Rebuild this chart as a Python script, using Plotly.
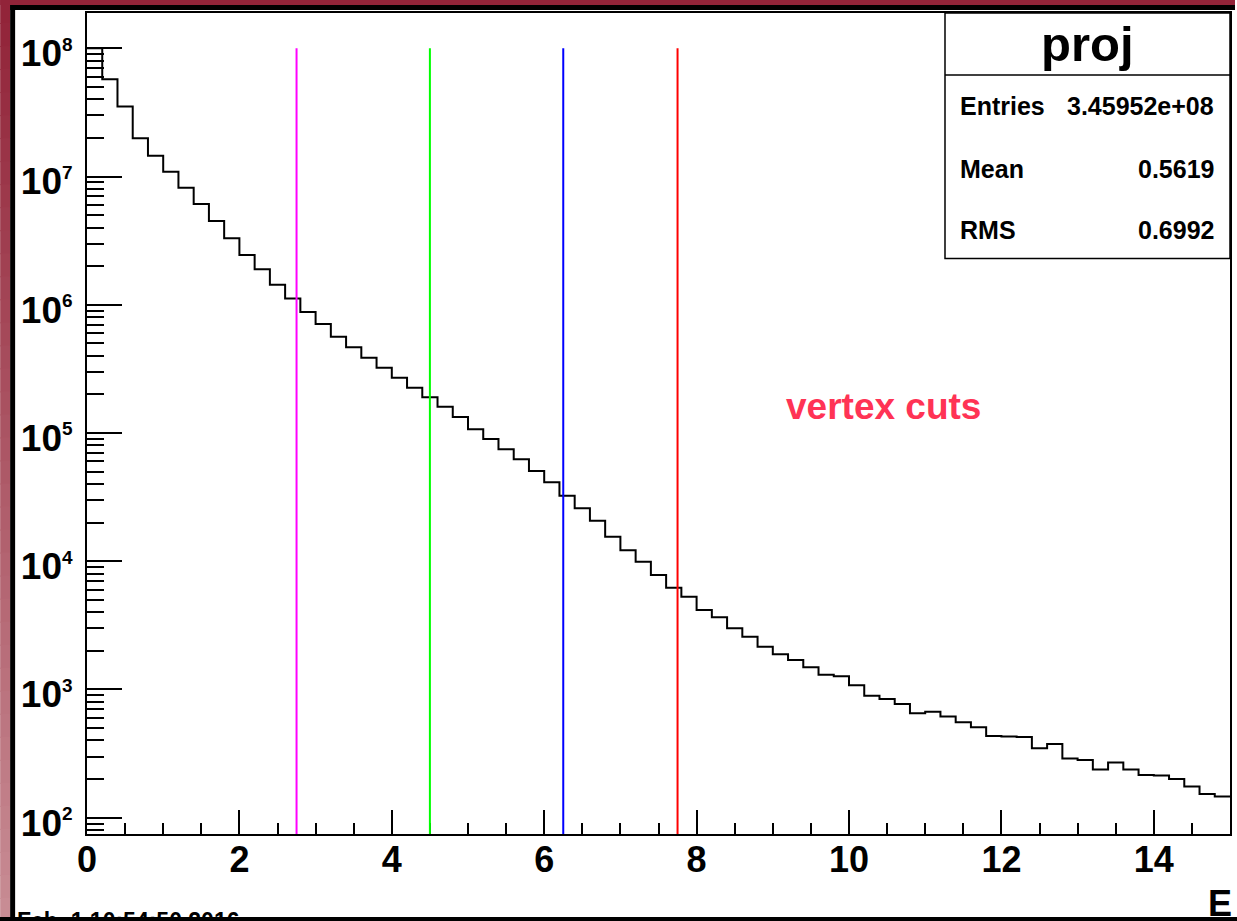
import numpy as np
import plotly.graph_objects as go

# ---------------- data ----------------
n_bins = 75
x_min, x_max = 0.0, 15.0
counts = [
    1.00e8, 5.73e7, 3.51e7, 1.99e7, 1.45e7, 1.09e7, 8.18e6, 6.11e6, 4.50e6, 3.30e6,
    2.44e6, 1.89e6, 1.43e6, 1.12e6, 8.77e5, 7.08e5, 5.64e5, 4.66e5, 3.86e5, 3.23e5,
    2.70e5, 2.25e5, 1.90e5, 1.60e5, 1.33e5, 1.07e5, 8.97e4, 7.46e4, 6.24e4, 5.06e4,
    4.13e4, 3.24e4, 2.59e4, 2.07e4, 1.55e4, 1.22e4, 9.91e3, 7.82e3, 6.22e3, 5.28e3,
    4.17e3, 3.66e3, 3.00e3, 2.58e3, 2.15e3, 1.88e3, 1.70e3, 1.49e3, 1.30e3, 1.27e3,
    1.08e3, 893, 843, 771, 652, 671, 614, 555, 507, 434,
    429, 425, 348, 376, 290, 282, 238, 269, 238, 215,
    213, 200, 175, 153, 146,
]
cut_positions = [2.75, 4.5, 6.25, 7.75]
cut_colors = ["#ff00ff", "#00ff00", "#0000ff", "#ff0000"]
cut_top = 1e8
cut_bottom = 1e1
y_tick_exponents = [2, 3, 4, 5, 6, 7, 8]
x_tick_values = [0, 2, 4, 6, 8, 10, 12, 14]

stats_title = "proj"
stats_rows = [("Entries", "3.45952e+08"), ("Mean", "0.5619"), ("RMS", "0.6992")]
note_text = "vertex cuts"
x_title = "E"
date_text = "Feb  1 10:54:50 2016"

# ---------------- geometry ----------------
W, H = 1237, 917
ML, MR, MT, MB = 87, 5, 13, 83
PW, PH = W - ML - MR, H - MT - MB
y_hi = 8.2753
y_lo = y_hi - PH / 128.23

def px(xp):
    return (xp - ML) / PW

def py(yp):
    return 1 - (yp - MT) / PH

FONT = "Liberation Sans"

# ---------------- traces ----------------
edges = np.linspace(x_min, x_max, n_bins + 1)
step_x = list(edges)
step_y = list(counts) + [counts[-1]]

fig = go.Figure()
fig.add_trace(go.Scatter(x=step_x, y=step_y, mode="lines", line_shape="hv",
                         line=dict(color="black", width=2), hoverinfo="skip",
                         showlegend=False))

minor_y = [m * 10 ** e for e in range(1, 9) for m in range(2, 10)]

fig.update_xaxes(range=[x_min, x_max], showgrid=False, zeroline=False,
                 showline=True, linecolor="black", linewidth=2, mirror=True,
                 ticks="inside", ticklen=24, tickwidth=1.5, tickcolor="black",
                 tickvals=x_tick_values, ticktext=[str(v) for v in x_tick_values],
                 tickfont=dict(family=FONT, size=36, color="black", weight="bold"),
                 ticklabelstandoff=-7,
                 minor=dict(dtick=0.5, tick0=0, ticks="inside", ticklen=11,
                            tickwidth=1.5, tickcolor="black", showgrid=False))
fig.update_yaxes(type="log", range=[y_lo, y_hi], showgrid=False, zeroline=False,
                 showline=True, linecolor="black", linewidth=2, mirror=True,
                 ticks="inside", ticklen=35, tickwidth=1.5, tickcolor="black",
                 tickvals=[10 ** e for e in y_tick_exponents],
                 ticktext=["10<sup><span style='font-size:19px'>%d</span></sup>" % e
                           for e in y_tick_exponents],
                 tickfont=dict(family=FONT, size=37, color="black", weight="bold"),
                 ticklabelshift=5, ticklabelstandoff=5,
                 minor=dict(tickmode="array", tickvals=minor_y, ticks="inside",
                            ticklen=17, tickwidth=1.5, tickcolor="black",
                            showgrid=False))

shapes = []
# vertical cut lines (data coordinates on the log axis)
for xc, col in zip(cut_positions, cut_colors):
    shapes.append(dict(type="line", xref="x", yref="y", x0=xc, x1=xc,
                       y0=cut_bottom, y1=cut_top,
                       line=dict(color=col, width=2), layer="above"))

# canvas decorations: gradient strip on the left, maroon strip on top, black borders
n_band = 40
c_top = np.array([146, 36, 57])
c_bot = np.array([200, 140, 148])
for i in range(n_band):
    f = i / (n_band - 1)
    c = (c_top * (1 - f) + c_bot * f).astype(int)
    y0p = i * 921 / n_band
    y1p = (i + 1) * 921 / n_band + 1
    shapes.append(dict(type="rect", xref="paper", yref="paper",
                       x0=px(0), x1=px(10), y0=py(y0p), y1=py(y1p),
                       fillcolor="rgb(%d,%d,%d)" % tuple(c), line=dict(width=0),
                       layer="above"))
shapes.append(dict(type="rect", xref="paper", yref="paper", x0=px(0), x1=px(W),
                   y0=py(0), y1=py(5), fillcolor="rgb(146,36,57)", line=dict(width=0)))
shapes.append(dict(type="rect", xref="paper", yref="paper", x0=px(10), x1=px(W),
                   y0=py(5), y1=py(10), fillcolor="black", line=dict(width=0)))
shapes.append(dict(type="rect", xref="paper", yref="paper", x0=px(10), x1=px(15),
                   y0=py(5), y1=py(H + 5), fillcolor="black", line=dict(width=0)))
# stats box
shapes.append(dict(type="rect", xref="paper", yref="paper", x0=px(946.5), x1=1.0,
                   y0=py(258.5), y1=1.0, fillcolor="white",
                   line=dict(color="black", width=1.5), layer="above"))
shapes.append(dict(type="line", xref="paper", yref="paper", x0=px(946.5), x1=1.0,
                   y0=py(75), y1=py(75), line=dict(color="black", width=1.5),
                   layer="above"))

ann = []
ann.append(dict(text=stats_title, xref="paper", yref="paper", x=px(1089), y=py(44),
                xanchor="center", yanchor="middle", showarrow=False,
                font=dict(family=FONT, size=49, color="black", weight="bold")))
row_y = [106, 168.5, 230]
for (lab, val), yy in zip(stats_rows, row_y):
    ann.append(dict(text=lab, xref="paper", yref="paper", x=px(960), y=py(yy),
                    xanchor="left", yanchor="middle", showarrow=False,
                    font=dict(family=FONT, size=25, color="black", weight="bold")))
    ann.append(dict(text=val, xref="paper", yref="paper", x=px(1218), y=py(yy),
                    xanchor="right", yanchor="middle", showarrow=False,
                    font=dict(family=FONT, size=25, color="black", weight="bold")))
ann.append(dict(text=note_text, xref="paper", yref="paper", x=px(884.5), y=py(407),
                xanchor="center", yanchor="middle", showarrow=False,
                font=dict(family=FONT, size=37, color="#ff3355", weight="bold")))
ann.append(dict(text=x_title, xref="paper", yref="paper", x=px(1236), y=py(903),
                xanchor="right", yanchor="middle", showarrow=False,
                font=dict(family=FONT, size=36, color="black", weight="bold")))
ann.append(dict(text=date_text, xref="paper", yref="paper", x=px(15), y=py(921),
                xanchor="left", yanchor="middle", showarrow=False,
                font=dict(family=FONT, size=23, color="black", weight="bold")))

fig.update_layout(width=W, height=H, autosize=False,
                  margin=dict(l=ML, r=MR, t=MT, b=MB, pad=0),
                  paper_bgcolor="white", plot_bgcolor="white",
                  shapes=shapes, annotations=ann, showlegend=False)

fig.write_html("out.html", config={"displayModeBar": False},
               post_script="document.body.style.margin='0';"
                           "document.body.style.background='black';"
                           "document.body.style.overflow='hidden';")
